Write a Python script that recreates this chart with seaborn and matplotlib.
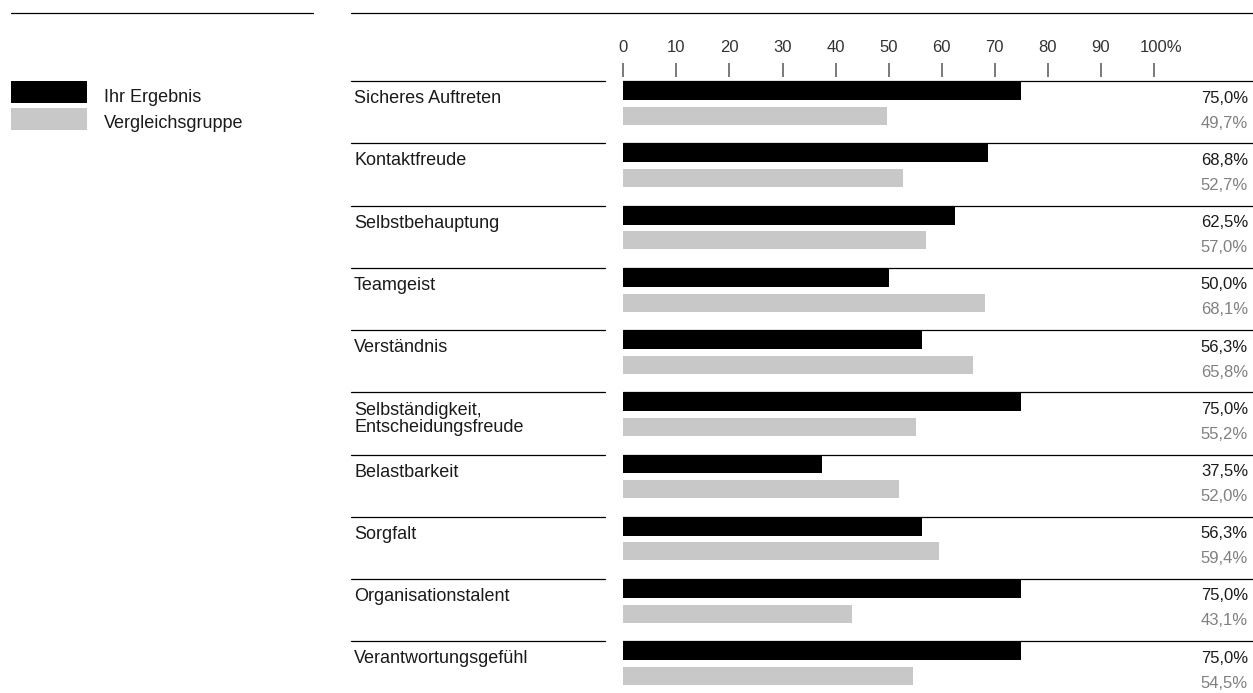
import numpy as np
import pandas as pd
import seaborn as sns
import matplotlib.pyplot as plt
from matplotlib.lines import Line2D
from matplotlib.patches import Rectangle
from matplotlib.transforms import blended_transform_factory, ScaledTranslation

categories = ["Sicheres Auftreten", "Kontaktfreude", "Selbstbehauptung", "Teamgeist",
              "Verständnis", "Selbständigkeit,\nEntscheidungsfreude", "Belastbarkeit",
              "Sorgfalt", "Organisationstalent", "Verantwortungsgefühl"]
ihr_ergebnis = [75.0, 68.8, 62.5, 50.0, 56.3, 75.0, 37.5, 56.3, 75.0, 75.0]
vergleichsgruppe = [49.7, 52.7, 57.0, 68.1, 65.8, 55.2, 52.0, 59.4, 43.1, 54.5]
series_names = ["Ihr Ergebnis", "Vergleichsgruppe"]
tick_values = list(range(0, 101, 10))
tick_labels = [str(t) for t in tick_values[:-1]] + ["100%"]

df = pd.DataFrame({
    "Kategorie": categories * 2,
    "Wert": ihr_ergebnis + vergleichsgruppe,
    "Gruppe": [series_names[0]] * len(categories) + [series_names[1]] * len(categories),
})

sns.set_style("white")
plt.rcParams["font.family"] = ["Liberation Sans", "DejaVu Sans"]

W, H = 1253, 693
px_per_unit = (1154 - 623.3) / 100   # x scale
row_px = 62.2                          # row height in pixels
label_fs = 13
value_fs = 12

def fx(p):
    return p / W

def fy(p):
    return 1 - p / H

fig = plt.figure(figsize=(W / 100, H / 100), dpi=100)
ax = fig.add_axes([fx(623.3), 0, (W - 623.3) / W, (H - 77) / H])

sns.barplot(data=df, y="Kategorie", x="Wert", hue="Gruppe", order=categories,
            hue_order=series_names, palette=["#000000", "#c8c8c8"], orient="h",
            width=0.8, gap=0.275, linewidth=0, saturation=1, ax=ax)

handles, labels = ax.get_legend_handles_labels()
ax.get_legend().remove()

ax.set_xlim(0, (W - 623.3) / px_per_unit)
ax.set_ylim(9.476, -0.427)
sns.despine(ax=ax, left=True, bottom=True, top=True, right=True)
ax.set_xlabel("")
ax.set_ylabel("")
ax.set_yticks([])
ax.xaxis.tick_top()
ax.set_xticks(tick_values)
ax.set_xticklabels(tick_labels)
ax.tick_params(axis="x", top=True, direction="out", length=10, width=1.1,
               color="#555555", pad=6, labelsize=12, labelcolor="#333333")
# "100%": keep the number centred on its tick
last = ax.get_xticklabels()[-1]
last.set_transform(last.get_transform() + ScaledTranslation(7.5 / 100, 0, fig.dpi_scale_trans))

mix = blended_transform_factory(fig.transFigure, ax.transData)
line_off = -0.358

for i, name in enumerate(categories):
    y_line = i + line_off
    ax.axhline(y_line, color="black", lw=0.9, zorder=0)
    fig.add_artist(Line2D([fx(351), fx(605)], [y_line, y_line], transform=mix,
                          color="black", lw=0.9))
    parts = name.split("\n")
    first = 22 if len(parts) == 1 else 22.5
    for j, part in enumerate(parts):
        ax.text(fx(354), y_line + (first + 17.5 * j) / row_px, part, transform=mix,
                ha="left", va="baseline", fontsize=label_fs, color="#1a1a1a")
    ax.text(fx(1248), y_line + 21.5 / row_px, f"{ihr_ergebnis[i]:.1f}".replace(".", ",") + "%",
            transform=mix, ha="right", va="baseline", fontsize=value_fs, color="#1a1a1a")
    ax.text(fx(1248), y_line + 46.5 / row_px, f"{vergleichsgruppe[i]:.1f}".replace(".", ",") + "%",
            transform=mix, ha="right", va="baseline", fontsize=value_fs, color="#808080")

# top rules
fig.add_artist(Line2D([fx(11), fx(313)], [fy(13), fy(13)], color="black", lw=0.9))
fig.add_artist(Line2D([fx(351), fx(1253)], [fy(13), fy(13)], color="black", lw=0.9))

# legend: swatches take their colours from the seaborn bars
for k, (h, lab) in enumerate(zip(handles, labels)):
    top = 81 + 27 * k
    fig.add_artist(Rectangle((fx(11), fy(top + 22)), fx(76), 22 / H,
                             facecolor=h.get_facecolor(), edgecolor="none",
                             transform=fig.transFigure))
    fig.text(fx(104), fy(top + 20.5), lab, ha="left", va="baseline",
             fontsize=label_fs, color="#1a1a1a")

fig.savefig("out.png", dpi=100)
